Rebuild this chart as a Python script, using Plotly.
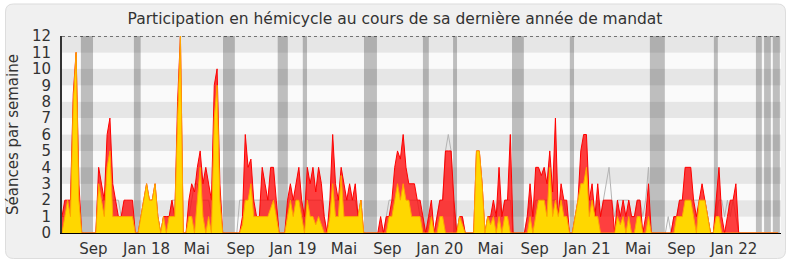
import plotly.graph_objects as go

# Weekly series, one value per week (week 0 = mid-June 2017)
presences = [
    1, 2, 2, 2, 8.5, 11, 3, 0, 0, 0, 0, 0, 0, 4, 3, 2, 6, 7, 3, 2,
    1, 1, 2, 2, 2, 2, 0, 0, 1, 2, 3, 2, 2, 3, 1, 0, 1, 1, 1, 2,
    1, 8, 12, 0, 0, 2, 3, 2.5, 4, 5, 3, 4, 3, 2, 9, 10, 3, 0, 0, 0,
    0, 0, 0, 0, 1, 6, 4, 4.5, 2, 1, 1, 4, 3, 2, 4, 4, 2, 0, 0, 0,
    2, 3, 2, 3, 4, 2, 1, 4, 3, 4, 2.5, 4, 3, 1, 0, 2, 6, 3, 2, 4,
    3, 2, 3, 2, 3, 1, 2, 0, 0, 0, 0, 0, 0, 1, 0, 1, 1, 2, 4, 5,
    4.5, 6, 4, 3, 3, 3, 2, 2, 1, 0, 1, 2, 0, 1, 2, 2, 5, 5, 5, 2,
    0, 1, 1, 0, 0, 0, 0, 5, 5, 3, 0, 1, 1, 2, 1, 4, 1, 2, 2, 6,
    0, 0, 0, 0, 0, 1, 3, 1, 4, 4, 3.5, 4, 3, 5, 2.5, 7, 1, 3, 2, 2,
    0, 0, 1, 2, 5, 6, 6, 2, 3, 1, 3, 1, 2, 2, 2, 2, 0, 2, 1, 2,
    1, 2, 1, 1, 2, 2, 0, 1, 3, 0, 0, 0, 0, 0, 0, 0, 0, 1, 1, 2,
    2, 4, 4, 4, 2, 1, 2, 3, 2, 1, 0, 0, 2, 4, 1, 0, 1, 2, 2, 3,
    0, 0, 0, 0, 0, 0, 0, 0, 0, 0, 0, 0, 0, 0, 0,
]
interventions = [
    0, 1, 2, 1, 8, 11, 2, 0, 0, 0, 0, 0, 0, 3, 2, 1, 4, 5, 1, 1,
    1, 1, 1, 1, 1, 1, 0, 0, 1, 2, 3, 2, 2, 3, 1, 0, 1, 0, 1, 1,
    1, 7, 12, 0, 0, 1, 1, 0, 2, 4, 1, 0, 1, 0, 7, 9, 2, 0, 0, 0,
    0, 0, 0, 0, 0.5, 2, 2, 3, 1, 1, 1, 1, 1, 1, 1.5, 2, 1, 0, 0, 0,
    1, 2, 1, 2, 2, 1, 0, 2, 1, 1, 0.5, 1, 0.5, 0, 0, 1, 3, 1, 1, 3.5,
    1, 1, 1, 1, 1, 1, 2, 0, 0, 0, 0, 0, 0, 0, 0, 0, 1, 1, 2, 3,
    2, 3, 2, 2, 1, 1, 1, 1, 0, 0, 0, 1, 0, 0, 1, 1, 0, 0, 0, 0,
    0, 1, 0.5, 0, 0, 0, 0, 5, 5, 3, 0, 1, 0.5, 1, 0, 1, 0, 1, 1, 0,
    0, 0, 0, 0, 0, 0, 1, 0, 1, 2, 2, 2, 1, 4, 1, 2, 1, 2, 1, 1,
    0, 0, 1, 2, 3, 3, 4, 1, 2, 1, 1, 0, 0, 0, 0, 0, 0, 1, 0.5, 1,
    0, 1, 0, 0, 1, 1, 0, 0, 1, 0, 0, 0, 0, 0, 0, 0, 0, 0, 1, 1,
    1, 2, 2, 2, 1, 0, 2, 2, 2, 1, 0, 0, 1, 1, 0, 0, 0, 0, 0, 0,
    0, 0, 0, 0, 0, 0, 0, 0, 0, 0, 0, 0, 0, 0, 0,
]
mediane = [
    1, 1, 1, 1, 2, 2, 1, 0, 0, 0, 0, 0, 0, 2, 2, 2, 2, 2, 2, 2,
    2, 1, 1, 1, 1, 1, 0, 0, 1, 1, 1, 1, 1, 1, 1, 0, 1, 1, 1, 2,
    2, 2, 2, 0, 0, 1, 2, 3, 3, 2, 2, 2, 2, 1, 2, 2, 1, 0, 0, 0,
    0, 0, 0, 2, 2, 2, 2, 2, 2, 2, 2, 2, 2, 2, 2, 2, 1, 0, 0, 0,
    1, 2, 2, 2, 2, 1, 1, 2, 2, 2, 2, 2, 2, 1, 0, 1, 2, 2, 2, 2,
    2, 2, 2, 2, 2, 1, 1, 0, 0, 0, 0, 0, 0, 0, 0, 1, 2, 2, 2, 2,
    2, 2, 2, 2, 2, 2, 2, 1, 1, 0, 1, 1, 0, 1, 2, 2, 5, 6, 5, 2,
    0, 1, 1, 0, 0, 0, 0, 2, 2, 1, 0, 1, 1, 1, 1, 2, 1, 2, 2, 2,
    0, 0, 0, 0, 0, 1, 2, 1, 2, 2, 2, 2, 2, 2, 2, 2, 1, 2, 2, 1,
    0, 0, 1, 1, 2, 2, 2, 2, 2, 1, 2, 1, 2, 3, 4, 2, 1, 2, 2, 2,
    2, 2, 1, 1, 2, 2, 1, 2, 4, 0, 0, 0, 0, 0, 0, 1, 0, 1, 1, 2,
    2, 2, 2, 2, 2, 2, 2, 2, 2, 1, 0, 0, 1, 2, 2, 1, 2, 1, 2, 1,
    0, 0, 0, 0, 0, 0, 0, 0, 0, 0, 0, 0, 0, 0, 0,
]
weeks = list(range(len(presences)))

# Parliamentary recess periods, in weeks
vacances = [
    (6.7, 11.0), (25.5, 27.9), (57.1, 61.3), (76.5, 80.1), (85.4, 86.9),
    (107.1, 111.7), (128.0, 130.1), (138.7, 140.1), (159.6, 163.8),
    (180.1, 181.6), (208.5, 213.8), (231.2, 232.6), (246.1, 248.2),
    (249.0, 251.4), (252.1, 254.6),
]

# Month labels on the time axis
tick_weeks = [11.1, 30.0, 47.8, 63.4, 81.9, 100.0, 115.4, 134.0, 152.0,
              167.6, 186.2, 204.3, 219.7, 238.3]
tick_labels = ["Sep", "Jan 18", "Mai", "Sep", "Jan 19", "Mai", "Sep",
               "Jan 20", "Mai", "Sep", "Jan 21", "Mai", "Sep", "Jan 22"]

W, H = 790, 267
ML, MR, MT, MB = 62, 9, 36, 34
PW, PH = W - ML - MR, H - MT - MB
NWEEKS = 255
YMAX = 12

FONT = "DejaVu Sans"
TXT = "#333333"


def px_to_paper(x, y):
    return (x - ML) / PW, (H - MB - y) / PH


def rounded_rect(x0, y0, x1, y1, r):
    pts = []
    segs = [
        ("M", x0 + r, y0), ("L", x1 - r, y0), ("Q", x1, y0, x1, y0 + r),
        ("L", x1, y1 - r), ("Q", x1, y1, x1 - r, y1), ("L", x0 + r, y1),
        ("Q", x0, y1, x0, y1 - r), ("L", x0, y0 + r), ("Q", x0, y0, x0 + r, y0),
    ]
    for s in segs:
        cmd, coords = s[0], s[1:]
        parts = []
        for i in range(0, len(coords), 2):
            px, py = px_to_paper(coords[i], coords[i + 1])
            parts.append(f"{px:.5f},{py:.5f}")
        pts.append(cmd + " ".join(parts))
    return " ".join(pts) + " Z"


shapes = [
    dict(type="path", xref="paper", yref="paper",
         path=rounded_rect(5.5, 4, 785.5, 258.5, 8),
         fillcolor="#f0f0f0", line=dict(color="#dddddd", width=1), layer="below"),
]

# Alternating horizontal bands
for k in range(YMAX):
    shapes.append(dict(type="rect", xref="x", yref="y", x0=0, x1=NWEEKS,
                       y0=k, y1=k + 1, layer="below", line=dict(width=0),
                       fillcolor="#e6e6e6" if k % 2 else "#fafafa"))

# Recess weeks
for a, b in vacances:
    shapes.append(dict(type="rect", xref="x", yref="y", x0=a, x1=b,
                       y0=0, y1=YMAX, layer="below", line=dict(width=0),
                       fillcolor="rgba(0,0,0,0.24)"))

# Dotted line at the top of the scale
shapes.append(dict(type="line", xref="x", yref="y", x0=0, x1=NWEEKS,
                   y0=YMAX, y1=YMAX, layer="above",
                   line=dict(color="black", width=1, dash="dot")))

fig = go.Figure()
fig.add_trace(go.Scatter(x=weeks, y=mediane, mode="lines",
                         line=dict(color="#b4b4b4", width=1), hoverinfo="skip"))
fig.add_trace(go.Scatter(x=weeks, y=presences, mode="lines", fill="tozeroy",
                         fillcolor="rgba(255,0,0,0.75)",
                         line=dict(color="#ff0000", width=1), hoverinfo="skip"))
fig.add_trace(go.Scatter(x=weeks, y=interventions, mode="lines", fill="tozeroy",
                         fillcolor="#ffd700",
                         line=dict(color="#ffa500", width=1), hoverinfo="skip"))

fig.update_layout(
    width=W, height=H,
    margin=dict(l=ML, r=MR, t=MT, b=MB, pad=0),
    paper_bgcolor="white", plot_bgcolor="#fafafa",
    showlegend=False,
    font=dict(family=FONT, color=TXT, size=14),
    title=dict(text="Participation en hémicycle au cours de sa dernière année de mandat",
               x=0.5, xanchor="center", y=1 - 19 / H, yanchor="middle",
               xref="container", font=dict(family=FONT, size=15.5, color=TXT)),
    shapes=shapes,
    xaxis=dict(range=[0, NWEEKS], showgrid=False, zeroline=False,
               showline=True, linecolor="black", linewidth=1,
               tickmode="array", tickvals=tick_weeks, ticktext=tick_labels,
               ticks="", ticklabelstandoff=2,
               tickfont=dict(size=15, color=TXT, family=FONT)),
    yaxis=dict(range=[0, YMAX], showgrid=False, zeroline=False,
               showline=True, linecolor="#333333", linewidth=2,
               tickmode="array", tickvals=list(range(YMAX + 1)),
               ticks="", ticklabelstandoff=6,
               tickfont=dict(size=15, color=TXT, family=FONT),
               title=dict(text="Séances par semaine", standoff=10,
                          font=dict(size=15, color=TXT, family=FONT))),
)

fig.write_html("out.html")
